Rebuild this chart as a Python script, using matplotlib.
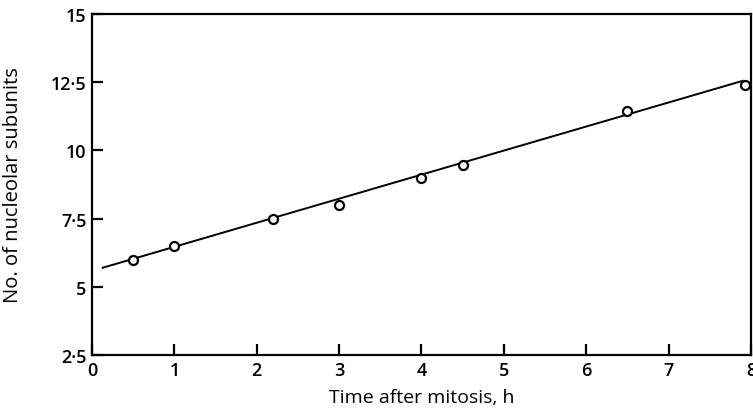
import matplotlib.pyplot as plt
from matplotlib.ticker import FixedLocator

plt.rcParams['font.family'] = ['Open Sans', 'DejaVu Sans']

# observed points
time_h = [0.5, 1.0, 2.2, 3.0, 4.0, 4.5, 6.5, 7.93]
subunits = [6.0, 6.5, 7.5, 8.0, 9.0, 9.45, 11.45, 12.4]

# fitted line (drawn by hand in the original)
fit_x = [0.13, 7.9]
fit_y = [5.7, 12.55]

xticks = [0, 1, 2, 3, 4, 5, 6, 7, 8]
yticks = [2.5, 5, 7.5, 10, 12.5, 15]
ytick_labels = ['2·5', '5', '7·5', '10', '12·5', '15']

fig = plt.figure(figsize=(7.53, 4.14), dpi=100)
ax = fig.add_axes([0.1222, 0.140, 0.8751, 0.8238])

ax.plot(fit_x, fit_y, color='black', lw=1.4)
ax.plot(time_h, subunits, 'o', mfc='white', mec='black', ms=6.5, mew=1.6, clip_on=False)

ax.set_xlim(0, 8)
ax.set_ylim(2.5, 15)
ax.xaxis.set_major_locator(FixedLocator(xticks))
ax.set_yticks(yticks)
ax.set_yticklabels(ytick_labels)

for s in ax.spines.values():
    s.set_linewidth(1.6)
ax.tick_params(direction='in', length=8, width=1.6, labelsize=13, pad=4)
for lab in ax.get_xticklabels() + ax.get_yticklabels():
    lab.set_fontweight('semibold')

ax.set_xlabel('Time after mitosis, h', fontsize=14, labelpad=7)
ax.set_ylabel('No. of nucleolar subunits', fontsize=14.5, labelpad=20)

fig.savefig('out.png', dpi=100)
